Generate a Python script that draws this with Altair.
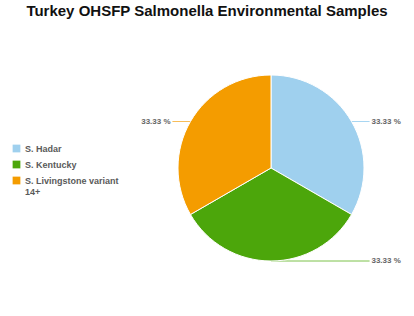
import altair as alt
import pandas as pd

categories = ["S. Hadar", "S. Kentucky", "S. Livingstone variant 14+"]
values = [1, 1, 1]
colors = ["#9fd0ee", "#4ca60b", "#f49c00"]
line_colors = ["#a8d6f2", "#7cc24a", "#f7bd5a"]

df = pd.DataFrame({"cat": categories, "val": values, "order": [0, 1, 2],
                   "lcol": line_colors})

R = 93
base = alt.Chart(df).transform_joinaggregate(total="sum(val)").transform_window(
    cum="sum(val)", sort=[alt.SortField("order")]
).transform_calculate(
    mid="2*PI*(datum.cum - datum.val/2)/datum.total",
    px="sin(datum.mid)",
    py="cos(datum.mid)",
    side="sin(datum.mid) >= -0.000001 ? 1 : -1",
    ex="datum.side * 1.06",
    tx="datum.side * 1.08",
    pct="format(100*datum.val/datum.total, '.2f') + ' %'",
)

xs = alt.Scale(domain=[-1, 1])
ys = alt.Scale(domain=[-1, 1])

arcs = alt.Chart(df).mark_arc(outerRadius=R, stroke="white", strokeWidth=1).encode(
    theta=alt.Theta("val:Q", stack=True),
    color=alt.Color("cat:N", scale=alt.Scale(domain=categories, range=colors),
                    legend=alt.Legend(
                        title=None, orient="none", legendX=-166, legendY=69,
                        symbolType="square", symbolSize=60, symbolStrokeWidth=0,
                        labelFont="Liberation Sans", labelFontSize=9,
                        labelFontWeight="bold", labelColor="#5a5a5a",
                        rowPadding=6, labelLimit=200,
                        labelExpr="datum.label == 'S. Livingstone variant 14+' ? ['S. Livingstone variant', '14+'] : datum.label",
                    )),
    order=alt.Order("order:Q"),
)

lines = base.mark_rule(strokeWidth=1).encode(
    x=alt.X("px:Q", scale=xs, axis=None),
    x2="ex:Q",
    y=alt.Y("py:Q", scale=ys, axis=None),
    color=alt.Color("lcol:N", scale=None),
)

text_style = dict(fontSize=8, font="Liberation Sans", fontWeight="bold",
                  color="#666666", baseline="middle")
labels_r = base.transform_filter("datum.side > 0").mark_text(align="left", **text_style).encode(
    x=alt.X("tx:Q", scale=xs, axis=None),
    y=alt.Y("py:Q", scale=ys, axis=None),
    text="pct:N",
)
labels_l = base.transform_filter("datum.side < 0").mark_text(align="right", **text_style).encode(
    x=alt.X("tx:Q", scale=xs, axis=None),
    y=alt.Y("py:Q", scale=ys, axis=None),
    text="pct:N",
)

chart = alt.layer(lines, arcs, labels_r, labels_l).resolve_scale(color="independent").properties(
    width=186, height=186,
    padding={"left": 178, "top": 75, "right": 50, "bottom": 55},
    autosize=alt.AutoSizeParams(type="none"),
    title=alt.TitleParams(
        "Turkey OHSFP Salmonella Environmental Samples",
        font="Liberation Sans", fontSize=15, fontWeight="bold", color="#111111",
        anchor="middle", dx=-64, offset=54,
    ),
).configure_view(stroke=None)

chart.save("out.html", embed_options={"renderer": "svg", "actions": False})
